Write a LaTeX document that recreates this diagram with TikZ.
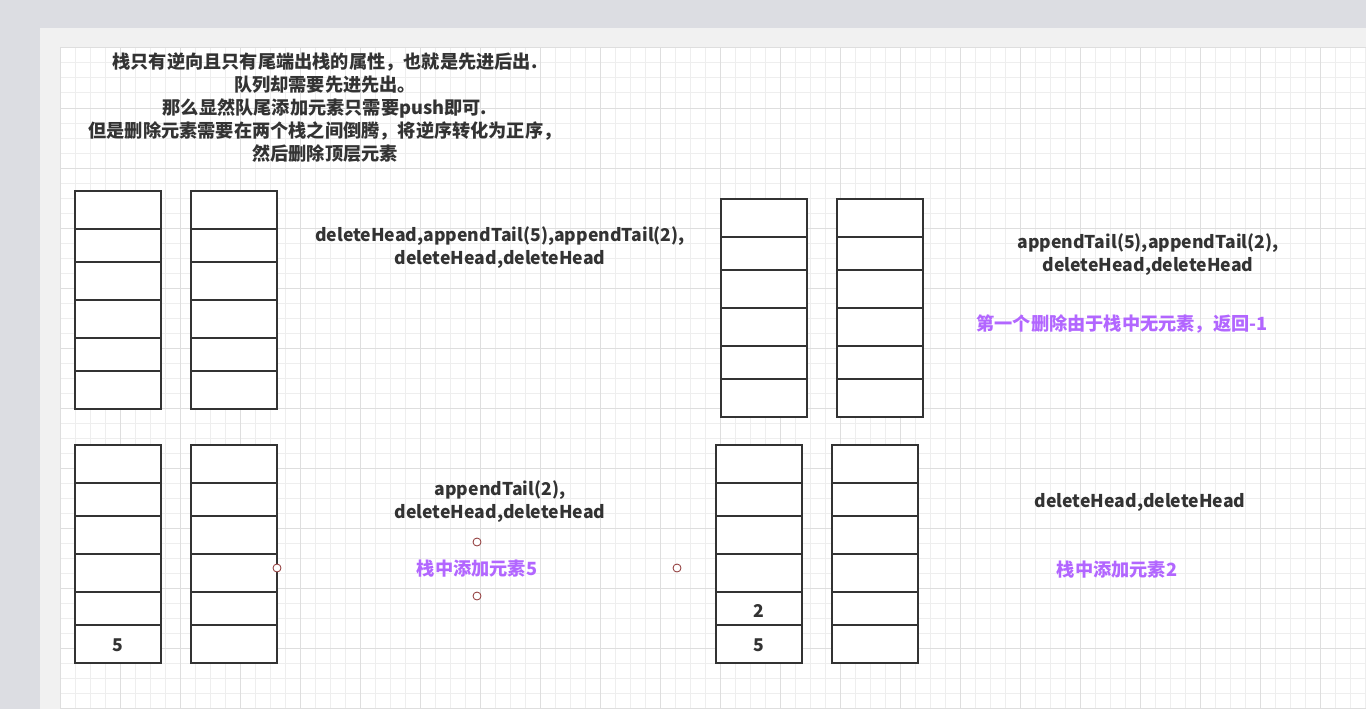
\documentclass[tikz,border=0pt]{standalone}
\usepackage{fontspec}
\setmainfont{Noto Sans CJK SC}
\definecolor{frame}{RGB}{220,221,226}
\definecolor{panel}{RGB}{241,241,241}
\definecolor{minorline}{RGB}{238,238,238}
\definecolor{majorline}{RGB}{222,222,222}
\definecolor{ink}{RGB}{51,51,51}
\definecolor{note}{RGB}{178,102,255}
\definecolor{handle}{RGB}{140,50,50}
\tikzset{
  cell/.style={draw=ink, line width=1.6pt, fill=white, minimum width=86pt,
    inner sep=0pt, outer sep=0pt, anchor=north west},
  txt/.style={text=ink, align=center, inner sep=0pt,
    font=\fontsize{17.6}{23}\selectfont\bfseries},
  cjktxt/.style={txt, font=\fontsize{18.2}{23}\selectfont\bfseries},
  notetxt/.style={cjktxt, text=note},
  knob/.style={draw=handle, fill=white, line width=0.8pt, circle,
    minimum size=8pt, inner sep=0pt}
}
\begin{document}
\begin{tikzpicture}[x=1pt,y=-1pt]
  \useasboundingbox (0,0) rectangle (1366,709);
  % canvas
  \fill[frame] (0,0) rectangle (1366,709);
  \fill[panel] (40,28) rectangle (1366,709);
  \fill[white] (60,48) rectangle (1366,709);
  \foreach \gx in {60,75,...,1366} \draw[minorline, line width=1pt] (\gx,48) -- (\gx,709);
  \foreach \gy in {48,63,...,709} \draw[minorline, line width=1pt] (60,\gy) -- (1366,\gy);
  \foreach \gx in {60,120,...,1366} \draw[majorline, line width=1pt] (\gx,48) -- (\gx,709);
  \foreach \gy in {48,108,...,709} \draw[majorline, line width=1pt] (60,\gy) -- (1366,\gy);

  % stacks
  \foreach \sx/\sy/\sn in {75/191/a, 191/191/b, 721/199/c, 837/199/d,
                            75/445/e, 191/445/f, 716/445/g, 832/445/h}
    \foreach \r/\top/\ht in {1/0/38, 2/38/33, 3/71/38, 4/109/38, 5/147/33, 6/180/38}
      \node[cell, minimum height=\ht pt] (\sn\r) at (\sx,\sy+\top) {};

  \node[txt] (fiveA) at ([yshift=-1pt]e6.center) {5};
  \node[txt] (twoB) at ([yshift=-2pt]g5.center) {2};
  \node[txt] (fiveB) at ([yshift=-1pt]g6.center) {5};

  % texts
  \node[cjktxt] (intro) at (325,107.5) {栈只有逆向且只有尾端出栈的属性，也就是先进后出.\\
    队列却需要先进先出。\\
    那么显然队尾添加元素只需要push即可.\\
    但是删除元素需要在两个栈之间倒腾，将逆序转化为正序，\\
    然后删除顶层元素};
  \node[txt] (opsA) at (500,248) {deleteHead,appendTail(5),appendTail(2),\\deleteHead,deleteHead};
  \node[txt] (opsB) at (1148,255) {appendTail(5),appendTail(2),\\deleteHead,deleteHead};
  \node[notetxt] (noteB) at (1122,324) {第一个删除由于栈中无元素，返回-1};
  \node[txt] (opsC) at (500,502) {appendTail(2),\\deleteHead,deleteHead};
  \node[notetxt] (noteC) at (477,569) {栈中添加元素5};
  \node[txt] (opsD) at (1140,502) {deleteHead,deleteHead};
  \node[notetxt] (noteD) at (1117,570) {栈中添加元素2};

  % selection handles
  \node[knob] (hw) at (277,568) {};
  \node[knob] (hn) at (477,542) {};
  \node[knob] (hs) at (477,596) {};
  \node[knob] (he) at (677,568) {};
\end{tikzpicture}
\end{document}
